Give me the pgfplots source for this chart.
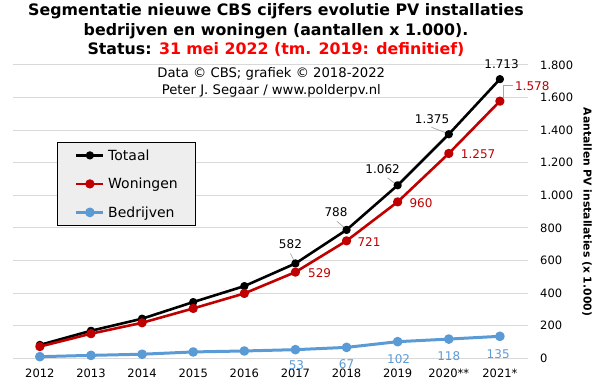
\documentclass[border=0pt]{standalone}
\usepackage{fontspec}
\setmainfont{DejaVu Sans}
\usepackage{pgfplots}
\pgfplotsset{compat=1.18}
\definecolor{totc}{HTML}{000000}
\definecolor{wonc}{HTML}{C00000}
\definecolor{bedc}{HTML}{5B9BD5}
\definecolor{gridc}{HTML}{D9D9D9}
\definecolor{titred}{HTML}{FF0000}
\definecolor{legbg}{HTML}{EEEEEE}
\definecolor{leadc}{HTML}{A6A6A6}
\newcommand{\lblf}{\fontsize{12}{14}\selectfont}
\newcommand{\titf}{\bfseries\fontsize{15.8}{18}\selectfont}
\begin{document}
\begin{tikzpicture}[x=1pt,y=1pt]
\begin{axis}[
  at={(13.3pt,30.7pt)}, anchor=south west,
  scale only axis, width=514.7pt, height=293.3pt,
  xmin=-0.52, xmax=9.55, ymin=0, ymax=1800,
  clip=false,
  xtick={0,...,9},
  xticklabels={2012,2013,2014,2015,2016,2017,2018,2019,2020**,2021*},
  ytick={0,200,...,1800},
  yticklabel pos=right,
  axis line style={draw=none},
  major tick length=0pt,
  ymajorgrids, grid style={gridc, line width=1pt},
  tick label style={font=\fontsize{11.5}{13}\selectfont, inner sep=0pt},
  xticklabel style={anchor=base, yshift=-19pt},
  yticklabel style={anchor=west, xshift=12pt},
  /pgf/number format/1000 sep={.},
  /pgf/number format/assume math mode=true,
  legend style={at={(0.0849,0.7385)}, anchor=north west, fill=legbg, draw=black, line width=0.8pt,
    inner xsep=17.5pt, inner ysep=6.8pt, row sep=15.5pt, column sep=3.3pt,
    font=\fontsize{14}{16}\selectfont,
    nodes={inner sep=0pt, text height=11.5pt, text depth=1.5pt}},
  legend cell align=left,
  legend image code/.code={\draw[mark repeat=2,mark phase=2,#1] plot coordinates {(0pt,0pt) (13.5pt,0pt) (27pt,0pt)};},
]
\addplot[totc, line width=2.6pt, line join=round, mark=*, mark size=2.8pt, mark options={solid}]
  coordinates {(0,82)(1,169)(2,243)(3,345)(4,443)(5,582)(6,788)(7,1062)(8,1375)(9,1713)};
\addlegendentry{Totaal}
\addplot[wonc, line width=2.6pt, line join=round, mark=*, mark size=3.3pt, mark options={solid}]
  coordinates {(0,72)(1,151)(2,218)(3,306)(4,398)(5,529)(6,721)(7,960)(8,1257)(9,1578)};
\addlegendentry{Woningen}
\addplot[bedc, line width=3pt, line join=round, mark=*, mark size=3.3pt, mark options={solid}]
  coordinates {(0,10)(1,18)(2,25)(3,39)(4,45)(5,53)(6,67)(7,102)(8,118)(9,135)};
\addlegendentry{Bedrijven}

% Totaal labels
\draw[leadc, line width=0.7pt] ([xshift=-5pt,yshift=10pt]axis cs:5,582) -- ([xshift=-1.5pt,yshift=3pt]axis cs:5,582);
\draw[leadc, line width=0.7pt] ([xshift=-9.6pt,yshift=8.6pt]axis cs:6,788) -- ([xshift=-2.5pt,yshift=2.5pt]axis cs:6,788);
\draw[leadc, line width=0.7pt] ([xshift=-10pt,yshift=7.3pt]axis cs:7,1062) -- ([xshift=-3pt,yshift=2pt]axis cs:7,1062);
\draw[leadc, line width=0.7pt] ([xshift=-17.3pt,yshift=7pt]axis cs:8,1375) -- ([xshift=-3pt,yshift=1.5pt]axis cs:8,1375);
\node[font=\lblf, text=totc, inner sep=0pt] at ([xshift=-5pt,yshift=19.4pt]axis cs:5,582) {582};
\node[font=\lblf, text=totc, inner sep=0pt] at ([xshift=-10.6pt,yshift=17.6pt]axis cs:6,788) {788};
\node[font=\lblf, text=totc, inner sep=0pt] at ([xshift=-15pt,yshift=16pt]axis cs:7,1062) {1.062};
\node[font=\lblf, text=totc, inner sep=0pt] at ([xshift=-16.7pt,yshift=15.3pt]axis cs:8,1375) {1.375};
\node[font=\lblf, text=totc, inner sep=0pt] at ([xshift=1.7pt,yshift=15.3pt]axis cs:9,1713) {1.713};
% Woningen labels
\node[font=\lblf, text=wonc, inner sep=0pt, anchor=west] at ([xshift=12.5pt,yshift=-0.6pt]axis cs:5,529) {529};
\node[font=\lblf, text=wonc, inner sep=0pt, anchor=west] at ([xshift=10.8pt,yshift=-1pt]axis cs:6,721) {721};
\node[font=\lblf, text=wonc, inner sep=0pt, anchor=west] at ([xshift=11.7pt,yshift=-1pt]axis cs:7,960) {960};
\node[font=\lblf, text=wonc, inner sep=0pt, anchor=west] at ([xshift=12pt,yshift=-0.8pt]axis cs:8,1257) {1.257};
\draw[leadc, line width=0.7pt] ([xshift=3pt,yshift=3.5pt]axis cs:9,1578) -- ([xshift=3pt,yshift=15.9pt]axis cs:9,1578) -- ([xshift=13.3pt,yshift=15.9pt]axis cs:9,1578);
\node[font=\lblf, text=wonc, inner sep=0pt, anchor=west] at ([xshift=15pt,yshift=15pt]axis cs:9,1578) {1.578};
% Bedrijven labels
\node[font=\lblf, text=bedc, inner sep=0pt] at ([xshift=1pt,yshift=-15.7pt]axis cs:5,53) {53};
\node[font=\lblf, text=bedc, inner sep=0pt] at ([xshift=0pt,yshift=-17pt]axis cs:6,67) {67};
\node[font=\lblf, text=bedc, inner sep=0pt] at ([xshift=1pt,yshift=-17pt]axis cs:7,102) {102};
\node[font=\lblf, text=bedc, inner sep=0pt] at ([xshift=0pt,yshift=-17pt]axis cs:8,118) {118};
\node[font=\lblf, text=bedc, inner sep=0pt] at ([xshift=-1.7pt,yshift=-17.4pt]axis cs:9,135) {135};
\end{axis}
% titles
\node[anchor=base, font=\titf, inner sep=0pt] at (276pt,373pt) {Segmentatie nieuwe CBS cijfers evolutie PV installaties};
\node[anchor=base, font=\titf, inner sep=0pt] at (276pt,353.5pt) {bedrijven en woningen (aantallen x 1.000).};
\node[anchor=base, font=\titf, inner sep=0pt] at (276pt,334pt) {Status: \textcolor{titred}{31 mei 2022 (tm. 2019: definitief)}};
\node[anchor=base, font=\fontsize{13.2}{15}\selectfont, inner sep=0pt] at (271.3pt,311.7pt) {Data © CBS; grafiek © 2018-2022};
\node[anchor=base, font=\fontsize{13.2}{15}\selectfont, inner sep=0pt] at (271.3pt,294.7pt) {Peter J. Segaar / www.polderpv.nl};
\node[rotate=-90, font=\bfseries\fontsize{10.8}{12}\selectfont, inner sep=0pt] at (587pt,177pt) {Aantallen PV installaties (x 1.000)};
\pgfresetboundingbox
\useasboundingbox (0pt,0pt) rectangle (598pt,389pt);
\end{tikzpicture}
\end{document}
